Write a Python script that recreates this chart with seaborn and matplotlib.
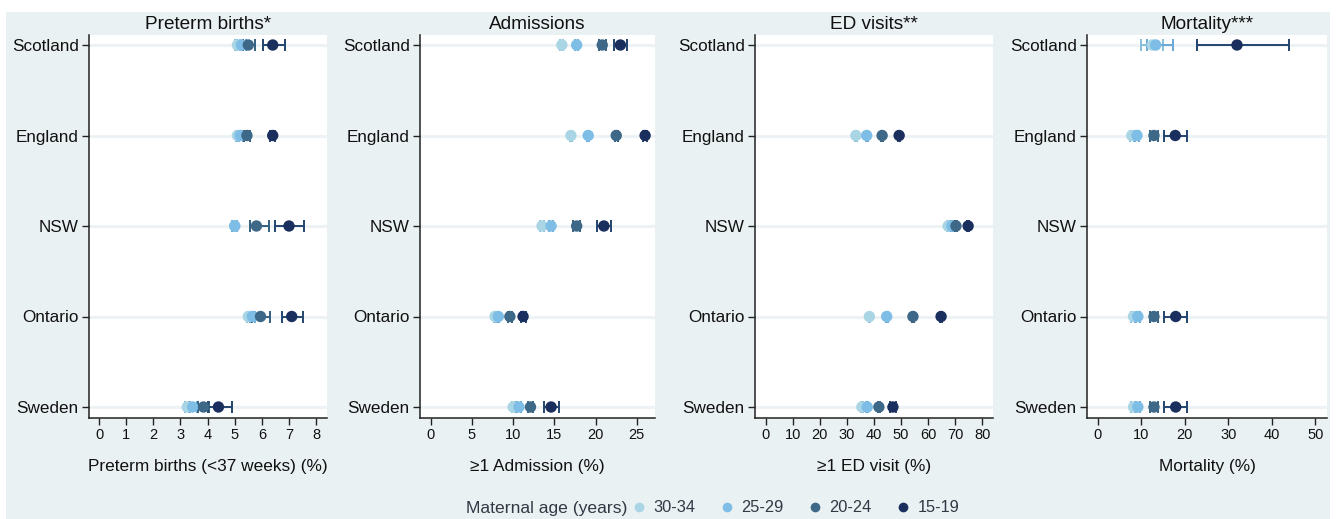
import numpy as np
import pandas as pd
import matplotlib
matplotlib.use("Agg")
import matplotlib.pyplot as plt
from matplotlib.lines import Line2D
from matplotlib.patches import Rectangle
import seaborn as sns

# ── data ───────────────────────────────────────────────
regions    = ["Scotland", "England", "NSW", "Ontario", "Sweden"]
age_groups = ["30-34", "25-29", "20-24", "15-19"]
nan = np.nan

# rows = age group, columns = region
preterm_mean = [[5.10, 5.10, 5.00, 5.50, 3.25],
                [5.25, 5.20, 5.00, 5.65, 3.45],
                [5.50, 5.45, 5.80, 5.95, 3.85],
                [6.40, 6.40, 7.00, 7.10, 4.40]]
preterm_lo   = [[5.00, 5.05, 4.95, 5.45, 3.15],
                [5.10, 5.10, 4.90, 5.55, 3.30],
                [5.30, 5.35, 5.55, 5.65, 3.65],
                [6.05, 6.30, 6.50, 6.75, 4.00]]
preterm_hi   = [[5.20, 5.15, 5.05, 5.55, 3.35],
                [5.40, 5.30, 5.10, 5.75, 3.60],
                [5.75, 5.55, 6.25, 6.30, 4.05],
                [6.85, 6.50, 7.55, 7.50, 4.90]]

admit_mean = [[15.9, 17.0, 13.5, 7.8, 10.0],
              [17.7, 19.1, 14.6, 8.2, 10.7],
              [20.8, 22.5, 17.7, 9.6, 12.1],
              [23.0, 26.0, 21.0, 11.2, 14.6]]
admit_lo   = [[15.7, 16.9, 13.3, 7.7, 9.8],
              [17.5, 19.0, 14.4, 8.1, 10.5],
              [20.4, 22.3, 17.3, 9.4, 11.8],
              [22.2, 25.8, 20.2, 10.9, 13.7]]
admit_hi   = [[16.1, 17.1, 13.7, 7.9, 10.2],
              [17.9, 19.2, 14.8, 8.3, 10.9],
              [21.2, 22.7, 18.1, 9.8, 12.4],
              [23.8, 26.2, 21.9, 11.5, 15.5]]

ed_mean = [[nan, 33.3, 67.4, 38.3, 35.5],
           [nan, 37.3, 68.8, 44.7, 37.5],
           [nan, 43.0, 70.3, 54.4, 41.8],
           [nan, 49.3, 74.8, 64.8, 47.0]]
ed_lo   = [[nan, 33.0, 67.1, 38.0, 35.2],
           [nan, 37.0, 68.5, 44.4, 37.2],
           [nan, 42.7, 69.9, 54.0, 41.4],
           [nan, 48.9, 74.3, 64.3, 46.0]]
ed_hi   = [[nan, 33.6, 67.7, 38.6, 35.8],
           [nan, 37.6, 69.1, 45.0, 37.8],
           [nan, 43.3, 70.7, 54.8, 42.2],
           [nan, 49.7, 75.3, 65.3, 48.0]]

mort_mean = [[12.5, 7.8, nan, 8.2, 8.2],
             [13.3, 9.0, nan, 9.2, 9.2],
             [nan, 12.9, nan, 12.9, 12.9],
             [32.0, 17.8, nan, 17.9, 17.9]]
mort_lo   = [[10.0, 7.3, nan, 7.6, 7.6],
             [11.3, 8.5, nan, 8.6, 8.6],
             [nan, 12.0, nan, 12.0, 12.0],
             [22.8, 15.3, nan, 15.3, 15.3]]
mort_hi   = [[15.0, 8.3, nan, 8.8, 8.8],
             [17.2, 9.5, nan, 9.8, 9.8],
             [nan, 13.9, nan, 13.9, 13.9],
             [44.0, 20.5, nan, 20.5, 20.5]]

titles  = ["Preterm births*", "Admissions", "ED visits**", "Mortality***"]
xlabels = ["Preterm births (<37 weeks) (%)", "\u22651 Admission (%)",
           "\u22651 ED visit (%)", "Mortality (%)"]
xticks  = [list(range(0, 9)), list(range(0, 30, 5)),
           list(range(0, 90, 10)), list(range(0, 60, 10))]
xlims   = [(-0.37, 8.4), (-1.3, 27.2), (-4.0, 84.0), (-2.5, 52.7)]

panels = [(preterm_mean, preterm_lo, preterm_hi),
          (admit_mean, admit_lo, admit_hi),
          (ed_mean, ed_lo, ed_hi),
          (mort_mean, mort_lo, mort_hi)]

# ── style ──────────────────────────────────────────────
BG       = "#EAF1F3"
GRID     = "#EDF2F5"
COLORS   = ["#A9D5E5", "#7EBDE6", "#3E6888", "#1B2F5E"]
ECOLORS  = ["#86BFD8", "#6AA8D6", "#34607F", "#23456F"]
positions = [(89, 327), (420, 655), (755, 993), (1087, 1327)]
W, H = 1338, 519

sns.set_theme(style="white")
plt.rcParams["font.family"] = ["Liberation Sans", "DejaVu Sans"]

fig = plt.figure(figsize=(W / 100, H / 100), dpi=100, facecolor="white")
fig.patches.append(Rectangle((6 / W, 0), (1330 - 6) / W, (H - 12) / H,
                             transform=fig.transFigure, facecolor=BG,
                             edgecolor="none", zorder=-5))

top, bottom = 35, 418
for i, (mean, lo, hi) in enumerate(panels):
    x0, x1 = positions[i]
    ax = fig.add_axes([x0 / W, 1 - bottom / H, (x1 - x0) / W, (bottom - top) / H])
    ax.set_facecolor("white")

    rows = []
    for a, age in enumerate(age_groups):
        for r, reg in enumerate(regions):
            rows.append({"region": reg, "age": age, "value": mean[a][r],
                         "lo": lo[a][r], "hi": hi[a][r]})
    df = pd.DataFrame(rows)

    # confidence intervals
    for a, age in enumerate(age_groups):
        sub = df[df["age"] == age].reset_index(drop=True)
        ok = sub["value"].notna()
        ypos = np.arange(len(regions))[ok.values]
        s = sub[ok]
        ax.errorbar(s["value"], ypos,
                    xerr=[s["value"] - s["lo"], s["hi"] - s["value"]],
                    fmt="none", ecolor=ECOLORS[a], elinewidth=1.4,
                    capsize=4, capthick=1.4, zorder=2 + a * 0.1)

    sns.stripplot(data=df.dropna(subset=["value"]), x="value", y="region",
                  hue="age", order=regions, hue_order=age_groups,
                  palette=COLORS, jitter=False, size=8.2, linewidth=0,
                  legend=False, ax=ax, zorder=3)

    ax.set_ylim(4 + 11 / 90.5, -10 / 90.5)
    ax.set_xlim(*xlims[i])
    ax.set_xticks(xticks[i])
    ax.set_xticklabels([str(t) for t in xticks[i]], fontsize=10.5)
    ax.set_yticks(range(len(regions)))
    ax.set_yticklabels(regions, fontsize=12.3)
    ax.yaxis.grid(True, color=GRID, linewidth=2.2, zorder=0)
    ax.xaxis.grid(False)
    ax.set_axisbelow(True)

    for side in ["top", "right"]:
        ax.spines[side].set_visible(False)
    for side in ["left", "bottom"]:
        ax.spines[side].set_color("#222222")
        ax.spines[side].set_linewidth(1.1)
    ax.tick_params(axis="both", which="major", direction="out", length=5,
                   width=1, color="#222222", left=True, bottom=True,
                   pad=2.5, labelcolor="#111111")

    ax.set_title(titles[i], fontsize=13.7, pad=4, color="#111111")
    ax.set_xlabel(xlabels[i], fontsize=12.4, labelpad=12, color="#111111")
    ax.set_ylabel("")

# ── legend ─────────────────────────────────────────────
fig.text(627 / W, 1 - 508 / H, "Maternal age (years)", ha="right",
         va="center", fontsize=12.6, color="#333844")
handles = [Line2D([0], [0], marker="o", linestyle="none", markersize=7,
                  markerfacecolor=c, markeredgewidth=0) for c in COLORS]
fig.legend(handles, age_groups, loc="center left",
           bbox_to_anchor=(631 / W, 1 - 508 / H), ncol=4, frameon=False,
           fontsize=11.8, handlelength=1.0, handletextpad=0.35,
           columnspacing=1.45, borderaxespad=0, borderpad=0,
           labelcolor="#333844")

fig.savefig("out.png", dpi=100, facecolor="white")
